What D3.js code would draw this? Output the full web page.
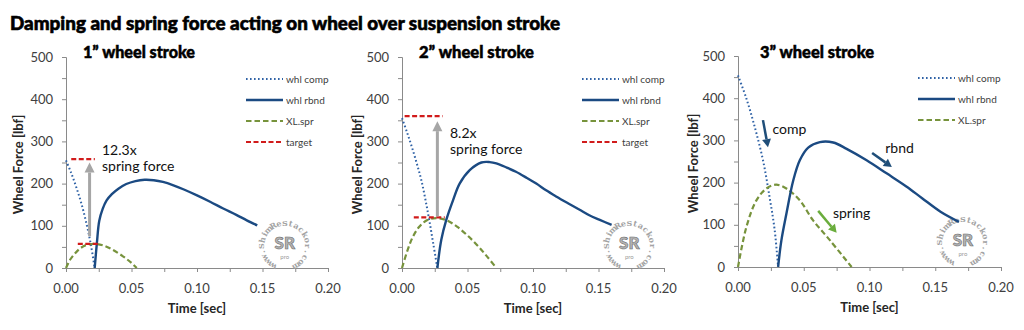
<!DOCTYPE html>
<html><head><meta charset="utf-8">
<script src="https://cdn.jsdelivr.net/npm/d3@7"></script>
<style>
html,body{margin:0;padding:0;background:#fff;}
svg{display:block;font-family:Lato,"Open Sans",sans-serif;}
</style></head>
<body>
<svg id="c" width="1024" height="330"></svg>
<script>
// ---------- data (time [sec], wheel force [lbf]) ----------
const xTicks = [0, 0.05, 0.10, 0.15, 0.20];
const yTicks = [0, 100, 200, 300, 400, 500];
const xLabels = ["0.00", "0.05", "0.10", "0.15", "0.20"];
const panelTitles = ["1\u201D wheel stroke", "2\u201D wheel stroke", "3\u201D wheel stroke"];
const seriesNames = ["whl comp", "whl rbnd", "XL.spr", "target"];
const watermarkText = "www.ShimReStackor.com";

const comp1 = [[0,255],[0.004,225],[0.008,190],[0.012,150],[0.016,100],[0.019,55],[0.0219,0]];
const rbnd1 = [[0.0219,0],[0.0236,60],[0.0254,112],[0.028,140],[0.031,160],[0.035,175],[0.040,188],[0.046,199],[0.053,206],[0.060,209],[0.067,208],[0.074,204],[0.082,196],[0.090,186],[0.100,172],[0.110,157],[0.120,141],[0.130,126],[0.138,113],[0.146,101]];
const spr1  = [[0,0],[0.003,19],[0.007,35],[0.011,47],[0.016,55],[0.022,57],[0.028,54],[0.034,46],[0.040,35],[0.046,22],[0.050,12],[0.054,0]];
const tgtHi1 = [[0.004,258],[0.022,258]];
const tgtLo1 = [[0.009,57],[0.026,57]];
const arrow1 = [[0.018,75],[0.018,250]];
const note1 = ["12.3x", "spring force"];

const comp2 = [[0,355],[0.004,320],[0.008,282],[0.012,240],[0.015,205],[0.018,160],[0.021,110],[0.024,55],[0.027,0]];
const rbnd2 = [[0.027,0],[0.030,67],[0.0338,114],[0.039,161],[0.044,200],[0.0517,232],[0.0606,250],[0.067,251],[0.072,248],[0.080,238],[0.087,228],[0.095,214],[0.1025,200],[0.110,184],[0.118,169],[0.127,153],[0.1356,138],[0.143,125],[0.151,114],[0.160,102]];
const spr2  = [[0,0],[0.004,40],[0.008,72],[0.013,97],[0.019,113],[0.026,118],[0.034,113],[0.042,98],[0.050,77],[0.058,52],[0.065,27],[0.072,0]];
const tgtHi2 = [[0.002,360],[0.031,360]];
const tgtLo2 = [[0.009,120],[0.0326,120]];
const arrow2 = [[0.027,122],[0.027,348]];
const note2 = ["8.2x", "spring force"];

const comp3 = [[0,454],[0.0064,399],[0.0127,332],[0.019,253],[0.024,166],[0.0279,87],[0.0305,0]];
const rbnd3 = [[0.0305,0],[0.033,63],[0.0368,126],[0.042,205],[0.047,253],[0.0534,283],[0.0623,296],[0.0724,295],[0.0826,280],[0.0978,253],[0.113,222],[0.128,191],[0.140,163],[0.154,131],[0.168,107]];
const spr3  = [[0,0],[0.0064,95],[0.014,158],[0.0216,186],[0.029,195],[0.0368,186],[0.047,158],[0.057,111],[0.070,63],[0.0864,0]];
const arrowsP3 = [
  {from:[0.019,348], to:[0.0228,284], color:"#1f4e79", label:"comp",   at:[0.0262,316]},
  {from:[0.102,270], to:[0.117,237],  color:"#1f4e79", label:"rbnd",   at:[0.112,270]},
  {from:[0.061,133], to:[0.075,81],   color:"#6aad3d", label:"spring", at:[0.0722,116]}
];
const watermarkAt = [[0.167,52],[0.1735,52],[0.171,58]];

// ---------- style ----------
const C = {comp:"#2f62a6", rbnd:"#1b4a82", spr:"#77933c", tgt:"#d11b1b", arrow:"#a6a6a6", axis:"#8a8a8a", text:"#404040"};

const svg = d3.select("#c");

svg.append("text").attr("x", 10).attr("y", 30)
  .attr("font-size", 19).attr("font-weight", 900).attr("fill", "#000")
  .attr("stroke", "#000").attr("stroke-width", 0.6)
  .attr("textLength", 550).attr("lengthAdjust", "spacingAndGlyphs")
  .text("Damping and spring force acting on wheel over suspension stroke");

const panels = [
  {x0:66, x1:328, y0:268, y1:57, yTitleX:23, title:panelTitles[0], titleX:83, titleW:112,
   comp:comp1, rbnd:rbnd1, spr:spr1, tgt:[tgtHi1,tgtLo1], arrow:arrow1, note:note1, noteAt:[102,155], legendN:4},
  {x0:402, x1:664, y0:268, y1:57, yTitleX:362, title:panelTitles[1], titleX:419, titleW:115,
   comp:comp2, rbnd:rbnd2, spr:spr2, tgt:[tgtHi2,tgtLo2], arrow:arrow2, note:note2, noteAt:[450,138], legendN:4},
  {x0:738, x1:1001, y0:267, y1:56, yTitleX:698, title:panelTitles[2], titleX:760, titleW:114,
   comp:comp3, rbnd:rbnd3, spr:spr3, tgt:null, arrow:null, note:null, legendN:3}
];

function arrowHead(g, x1, y1, x2, y2, color, len, half) {
  const a = Math.atan2(y2 - y1, x2 - x1);
  const bx = x2 - len * Math.cos(a), by = y2 - len * Math.sin(a);
  const px = -Math.sin(a) * half, py = Math.cos(a) * half;
  g.append("path").attr("d", `M${x2},${y2}L${bx+px},${by+py}L${bx-px},${by-py}Z`).attr("fill", color);
  return [bx, by];
}

panels.forEach((p, i) => {
  const x = d3.scaleLinear().domain([0, 0.2]).range([p.x0, p.x1]);
  const y = d3.scaleLinear().domain([0, 500]).range([p.y0, p.y1]);
  const g = svg.append("g");

  // axes
  const xa = g.append("g").attr("transform", `translate(0,${p.y0})`)
    .call(d3.axisBottom(x).tickValues(d3.range(0, 0.2001, 0.025)).tickSize(4).tickFormat(""));
  const ya = g.append("g").attr("transform", `translate(${p.x0},0)`)
    .call(d3.axisLeft(y).tickValues(d3.range(0, 501, 50)).tickSize(4).tickFormat(""));
  [xa, ya].forEach(a => { a.select(".domain").attr("stroke", C.axis); a.selectAll("line").attr("stroke", C.axis); });

  g.selectAll(".xl").data(xTicks).join("text").attr("x", d => x(d)).attr("y", p.y0 + 25)
    .attr("text-anchor", "middle").attr("font-size", 13).attr("fill", C.text).text((d, k) => xLabels[k]);
  g.selectAll(".yl").data(yTicks).join("text").attr("x", p.x0 - 13).attr("y", d => y(d) + 4.5)
    .attr("text-anchor", "end").attr("font-size", 13).attr("fill", C.text).text(d => d);

  g.append("text").attr("x", (p.x0 + p.x1) / 2).attr("y", p.y0 + 45).attr("text-anchor", "middle")
    .attr("font-size", 13).attr("font-weight", 700).attr("fill", "#262626").text("Time [sec]");
  g.append("text").attr("transform", `translate(${p.yTitleX},${(p.y0 + p.y1) / 2 + 2}) rotate(-90)`)
    .attr("text-anchor", "middle").attr("font-size", 13).attr("font-weight", 700).attr("fill", "#262626")
    .text("Wheel Force [lbf]");

  g.append("text").attr("x", p.titleX).attr("y", 58).attr("font-size", 16).attr("font-weight", 900)
    .attr("stroke", "#000").attr("stroke-width", 0.5)
    .attr("textLength", p.titleW).attr("lengthAdjust", "spacingAndGlyphs").text(p.title);

  // watermark: circular text built from single rotated glyphs
  const [wt, wv] = watermarkAt[i];
  const r = 20.5;
  const wm = g.append("g").attr("transform", `translate(${x(wt)},${y(wv)})`);
  const chars = watermarkText.split("");
  const a0 = -150, a1 = 150;
  chars.forEach((ch, k) => {
    const ang = a0 + (a1 - a0) * k / (chars.length - 1);
    wm.append("text").attr("transform", `rotate(${ang}) translate(0,${-r})`)
      .attr("text-anchor", "middle").attr("font-size", 8).attr("font-weight", 700)
      .attr("font-family", "DejaVu Serif, serif").attr("fill", "#a3a3a3").text(ch);
  });
  wm.append("text").attr("y", 3).attr("text-anchor", "middle").attr("font-size", 17).attr("font-weight", 900)
    .attr("fill", "#b4b4b4").attr("stroke", "#6e6e6e").attr("stroke-width", 0.6).text("SR");
  wm.append("text").attr("y", 13).attr("text-anchor", "middle").attr("font-size", 6).attr("fill", "#9a9a9a").text("pro");

  const line = d3.line().x(d => x(d[0])).y(d => y(d[1])).curve(d3.curveCatmullRom);

  // series
  g.append("path").attr("d", line(p.comp)).attr("fill", "none")
    .attr("stroke", C.comp).attr("stroke-width", 2).attr("stroke-dasharray", "1.6,2.4");
  g.append("path").attr("d", line(p.spr)).attr("fill", "none")
    .attr("stroke", C.spr).attr("stroke-width", 2.2).attr("stroke-dasharray", "5.5,3");
  g.append("path").attr("d", line(p.rbnd)).attr("fill", "none")
    .attr("stroke", C.rbnd).attr("stroke-width", 2.4);

  if (p.tgt) {
    p.tgt.forEach(seg => g.append("path").attr("d", d3.line().x(d => x(d[0])).y(d => y(d[1])).curve(d3.curveLinear)(seg))
      .attr("fill", "none").attr("stroke", C.tgt).attr("stroke-width", 2.2).attr("stroke-dasharray", "5,2.5"));
  }
  if (p.arrow) {
    const [a, b] = p.arrow;
    const [bx, by] = arrowHead(g, x(a[0]), y(a[1]), x(b[0]), y(b[1]), C.arrow, 10, 5);
    g.append("line").attr("x1", x(a[0])).attr("y1", y(a[1])).attr("x2", bx).attr("y2", by)
      .attr("stroke", C.arrow).attr("stroke-width", 3);
  }
  if (p.note) {
    p.note.forEach((t, k) => g.append("text").attr("x", p.noteAt[0]).attr("y", p.noteAt[1] + k * 15.5)
      .attr("font-size", 14).attr("fill", "#111").text(t));
  }
  if (i === 2) {
    arrowsP3.forEach(a => {
      const [bx, by] = arrowHead(g, x(a.from[0]), y(a.from[1]), x(a.to[0]), y(a.to[1]), a.color, 8, 4.5);
      g.append("line").attr("x1", x(a.from[0])).attr("y1", y(a.from[1])).attr("x2", bx).attr("y2", by)
        .attr("stroke", a.color).attr("stroke-width", 2.5);
      g.append("text").attr("x", x(a.at[0])).attr("y", y(a.at[1])).attr("font-size", 14).attr("fill", "#111").text(a.label);
    });
  }

  // legend
  const lx = p.x0 + 180, ly = p.y1 + 22;
  const styles = [
    {c:C.comp, w:2, d:"1.6,2.4"}, {c:C.rbnd, w:2.4, d:null}, {c:C.spr, w:2.2, d:"5.5,3"}, {c:C.tgt, w:2.2, d:"5,2.5"}
  ];
  for (let k = 0; k < p.legendN; k++) {
    const yy = ly + k * 21;
    const l = g.append("line").attr("x1", lx).attr("x2", lx + 37).attr("y1", yy).attr("y2", yy)
      .attr("stroke", styles[k].c).attr("stroke-width", styles[k].w);
    if (styles[k].d) l.attr("stroke-dasharray", styles[k].d);
    g.append("text").attr("x", lx + 40).attr("y", yy + 3.5).attr("font-size", 10).attr("fill", "#404040").text(seriesNames[k]);
  }
});
</script>
</body></html>
